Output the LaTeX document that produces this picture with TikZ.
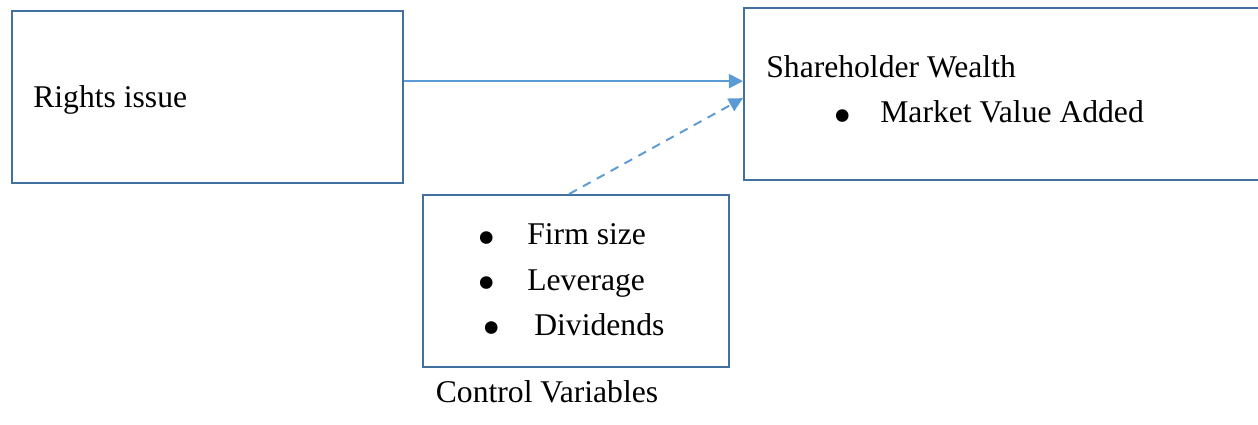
\documentclass[tikz,border=0pt]{standalone}
\usepackage{fontspec}
\setmainfont{Liberation Serif}
\usetikzlibrary{arrows.meta}
\definecolor{boxblue}{RGB}{65,113,156}
\definecolor{linkblue}{RGB}{91,155,213}
\begin{document}
\begin{tikzpicture}[x=0.02cm, y=-0.02cm,
    box/.style={draw=boxblue, line width=1.3pt, anchor=north west, minimum height=3.44cm, inner sep=0pt},
    lbl/.style={anchor=base west, inner sep=0pt, font=\fontsize{18}{21}\selectfont},
    dot/.style={anchor=base, inner sep=0pt, font=\fontsize{30}{30}\selectfont},
    link/.style={draw=linkblue, line width=1.1pt, -{Triangle[length=8pt,width=8pt]}}]
    \clip (0,0) rectangle (1258,424);

    % Draw boxes
    \node[box, minimum width=7.82cm] (rights) at (11,10) {};
    \node[box, minimum width=11.4cm] (wealth) at (743,7) {};
    \node[box, minimum width=6.12cm] (control) at (422,194) {};

    % Draw labels
    \node[lbl] (rightsText) at (33,107) {Rights issue};
    \node[lbl] (wealthText) at (766,77) {Shareholder Wealth};
    \node[dot] (mvaDot) at (843,133) {\smash{\textbullet}};
    \node[lbl] (mvaText) at (880,122) {Market Value Added};
    \node[dot] (sizeDot) at (487,255) {\smash{\textbullet}};
    \node[lbl] (sizeText) at (527,244) {Firm size};
    \node[dot] (levDot) at (487,300) {\smash{\textbullet}};
    \node[lbl] (levText) at (527,290) {Leverage};
    \node[dot] (divDot) at (492,345) {\smash{\textbullet}};
    \node[lbl] (divText) at (534,335) {Dividends};
    \node[lbl, anchor=base] (controlText) at (547,402) {Control Variables};

    % Draw directed edges
    \draw[link] ([yshift=0.32cm]rights.east) -- ([yshift=0.32cm]rights.east -| wealth.west);
    \draw[link, dash pattern=on 5pt off 4pt] ([xshift=-0.14cm]control.north) -- ([yshift=-0.08cm]wealth.west);
\end{tikzpicture}
\end{document}
